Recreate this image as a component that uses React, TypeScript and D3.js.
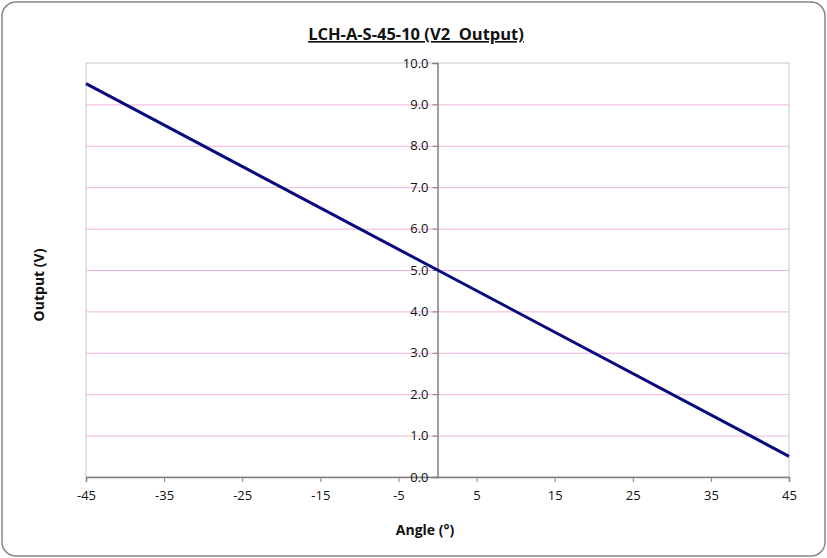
import { useEffect, useRef } from 'react';
import { axisBottom, axisLeft, line, range, scaleLinear, select } from 'd3';

const angles = [-45, 0, 45];
const outputs = [9.5, 5.0, 0.5];
const xTicks = [-45, -35, -25, -15, -5, 5, 15, 25, 35, 45];
const yTicks = [0, 1, 2, 3, 4, 5, 6, 7, 8, 9, 10];
const title = 'LCH-A-S-45-10 (V2  Output)';

const FONT = '"Open Sans", "Noto Sans", sans-serif';

export default function App() {
  const ref = useRef<SVGSVGElement>(null);

  useEffect(() => {
    const el = ref.current;
    if (!el) return;
    const svg = select(el);
    svg.selectAll('*').remove();

    const W = 827,
      H = 558;
    const margin = { top: 63, right: 38, bottom: 81, left: 86 };
    const width = W - margin.left - margin.right;
    const height = H - margin.top - margin.bottom;

    // outer frame
    svg
      .append('rect')
      .attr('x', 2)
      .attr('y', 2)
      .attr('width', W - 4)
      .attr('height', H - 4)
      .attr('rx', 14)
      .attr('fill', '#fff')
      .attr('stroke', '#888')
      .attr('stroke-width', 1.5);

    const x = scaleLinear().domain([-45, 45]).range([0, width]);
    const y = scaleLinear().domain([0, 10]).range([height, 0]);

    const g = svg
      .append('g')
      .attr('transform', `translate(${margin.left},${margin.top})`);

    // plot area border
    g.append('rect')
      .attr('width', width)
      .attr('height', height)
      .attr('fill', 'none')
      .attr('stroke', '#c8c8c8')
      .attr('stroke-width', 1);

    // gridlines
    g.append('g')
      .selectAll('line')
      .data(range(1, 10))
      .join('line')
      .attr('x1', 0)
      .attr('x2', width)
      .attr('y1', (d) => y(d) + 0.5)
      .attr('y2', (d) => y(d) + 0.5)
      .attr('stroke', '#f0b4dc')
      .attr('stroke-width', 1);

    // x axis
    g.append('g')
      .attr('transform', `translate(0,${height})`)
      .call(axisBottom(x).tickValues(xTicks).tickSize(5).tickPadding(9).tickFormat((d) => String(d)))
      .call((a) => {
        a.select('.domain').attr('stroke', '#808080').attr('stroke-width', 1.5);
        a.selectAll('line').attr('stroke', '#808080');
        a.selectAll('text')
          .attr('font-family', FONT)
          .attr('font-size', 13)
          .attr('fill', '#111');
      });

    // y axis at x = 0
    g.append('g')
      .attr('transform', `translate(${x(0)},0)`)
      .call(axisLeft(y).tickValues(yTicks).tickSize(5).tickPadding(4).tickFormat((d) => (+d).toFixed(1)))
      .call((a) => {
        a.select('.domain').attr('stroke', '#808080').attr('stroke-width', 1.5);
        a.selectAll('line').attr('stroke', '#808080');
        a.selectAll('text')
          .attr('font-family', FONT)
          .attr('font-size', 13)
          .attr('fill', '#111');
      });

    // series line
    const pts = angles.map((a, i) => [a, outputs[i]] as [number, number]);
    g.append('path')
      .datum(pts)
      .attr('fill', 'none')
      .attr('stroke', '#0a0a80')
      .attr('stroke-width', 3)
      .attr(
        'd',
        line<[number, number]>()
          .x((d) => x(d[0]))
          .y((d) => y(d[1]))
      );

    // title
    svg
      .append('text')
      .attr('x', 416)
      .attr('y', 40)
      .attr('text-anchor', 'middle')
      .attr('font-family', FONT)
      .attr('font-weight', 'bold')
      .attr('font-size', 16.5)
      .attr('text-decoration', 'underline')
      .attr('fill', '#111')
      .style('white-space', 'pre')
      .text(title);

    // axis titles
    svg
      .append('text')
      .attr('x', 425)
      .attr('y', 535)
      .attr('text-anchor', 'middle')
      .attr('font-family', FONT)
      .attr('font-weight', 'bold')
      .attr('font-size', 14)
      .attr('fill', '#111')
      .text('Angle (°)');

    svg
      .append('text')
      .attr('transform', 'translate(44,285) rotate(-90)')
      .attr('text-anchor', 'middle')
      .attr('font-family', FONT)
      .attr('font-weight', 'bold')
      .attr('font-size', 14)
      .attr('fill', '#111')
      .text('Output (V)');
  }, []);

  return (
    <svg
      ref={ref}
      width={827}
      height={558}
      style={{ position: 'absolute', left: 0, top: 0, display: 'block' }}
    />
  );
}
